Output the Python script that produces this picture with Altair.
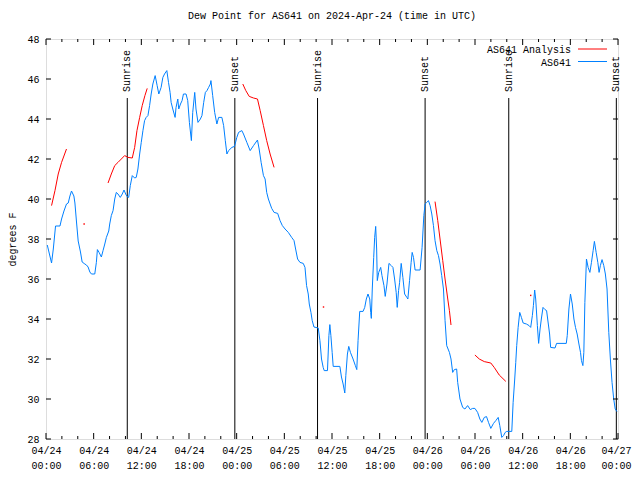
import altair as alt
import pandas as pd

FONT = "Liberation Mono"

# Observations (AS641), hours since 2024-04-24 00:00 UTC, dew point in F
obs_hours = [0.16, 0.70, 0.92, 1.20, 1.76, 1.96, 2.26, 2.58, 2.80, 3.01, 3.21, 3.51, 3.64, 3.84, 4.05,
             4.34, 4.55, 4.89, 5.09, 5.30, 5.52, 5.72, 6.14, 6.34, 6.47, 6.68, 6.97, 7.18, 7.40, 7.60,
             7.90, 8.02, 8.22, 8.44, 8.65, 8.85, 9.06, 9.35, 9.60, 9.82, 10.03, 10.19, 10.41, 10.61,
             10.86, 11.16, 11.36, 11.57, 11.79, 11.99, 12.20, 12.41, 12.61, 12.83, 13.04, 13.24, 13.45,
             13.74, 13.99, 14.20, 14.49, 14.71, 14.92, 15.21, 15.42, 15.62, 15.75, 15.96, 16.25, 16.37,
             16.59, 16.71, 16.93, 17.13, 17.30, 17.63, 17.84, 18.05, 18.30, 18.47, 18.72, 18.88, 19.13,
             19.43, 19.63, 19.85, 20.06, 20.26, 20.47, 20.69, 20.76, 20.98, 21.23, 21.51, 21.73, 22.14,
             22.36, 22.57, 22.77, 22.98, 23.40, 23.73, 24.02, 24.24, 24.65, 24.86, 25.28, 25.70, 26.12,
             26.62, 26.83, 27.08, 27.37, 27.58, 27.78, 27.99, 28.21, 28.41, 28.71, 29.16, 29.46, 29.75,
             30.09, 30.50, 30.92, 31.22, 31.42, 31.67, 31.97, 32.38, 32.60, 32.80, 33.01, 33.14, 33.35,
             33.51, 33.73, 34.27, 34.48, 34.68, 34.89, 35.02, 35.43, 35.61, 35.73, 35.86, 36.02, 36.15,
             36.99, 37.19, 37.40, 37.61, 37.74, 37.94, 38.11, 38.32, 38.65, 38.94, 39.12, 39.28, 39.49,
             39.91, 40.12, 40.32, 40.53, 40.75, 40.87, 40.95, 41.07, 41.25, 41.37, 41.50, 41.62, 41.70,
             41.88, 42.13, 42.29, 42.54, 42.70, 42.92, 43.17, 43.46, 43.67, 43.88, 44.08, 44.21, 44.38,
             44.51, 44.71, 44.92, 45.14, 45.42, 45.55, 45.76, 45.96, 46.09, 46.26, 46.46, 47.09, 47.34,
             47.56, 47.72, 47.93, 48.14, 48.35, 48.56, 48.77, 48.97, 49.19, 49.40, 49.60, 49.81, 50.03,
             50.23, 50.44, 50.78, 50.98, 51.19, 51.40, 51.69, 51.82, 52.11, 52.45, 52.73, 53.07, 53.41,
             53.70, 53.99, 54.33, 54.61, 54.86, 55.17, 55.45, 55.70, 55.99, 56.33, 56.62, 56.92, 57.12,
             57.37, 57.59, 57.80, 58.00, 58.63, 58.80, 59.00, 59.13, 59.25, 59.43, 59.63, 59.84, 60.06,
             60.47, 60.81, 61.01, 61.22, 61.35, 61.51, 61.64, 61.85, 62.01, 62.19, 62.35, 62.56, 62.81,
             63.01, 63.23, 63.39, 63.52, 64.07, 64.27, 65.49, 65.61, 65.82, 66.02, 66.24, 66.45, 66.65,
             66.86, 67.08, 67.28, 67.40, 67.58, 67.70, 67.83, 68.03, 68.24, 68.46, 68.66, 68.87, 69.03,
             69.25, 69.46, 69.62, 69.78, 69.99, 70.21, 70.41, 70.62, 70.84, 71.04, 71.25, 71.46, 71.65,
             71.87]
obs_dewpt = [37.70, 36.80, 37.50, 38.65, 38.65, 39.00, 39.40, 39.75, 39.80, 40.15, 40.40, 40.15, 39.80,
             38.85, 37.90, 37.35, 36.85, 36.75, 36.70, 36.60, 36.35, 36.25, 36.25, 36.83, 37.47, 37.33,
             37.10, 37.42, 37.75, 38.08, 38.40, 38.75, 39.17, 39.42, 40.00, 40.33, 40.25, 40.08, 40.25,
             40.45, 40.25, 40.13, 40.08, 40.67, 41.17, 41.05, 41.08, 41.50, 42.25, 42.83, 43.42, 43.92,
             44.08, 44.17, 44.67, 45.25, 45.75, 46.17, 45.67, 45.25, 45.58, 46.08, 46.25, 46.42, 45.83,
             45.33, 44.83, 44.50, 44.08, 44.58, 45.00, 44.50, 44.75, 44.92, 45.25, 45.25, 44.92, 43.83,
             42.92, 44.33, 45.33, 44.50, 43.83, 44.00, 44.17, 44.83, 45.33, 45.42, 45.58, 45.75, 45.92,
             45.17, 44.33, 43.75, 44.08, 44.08, 43.67, 42.92, 42.25, 42.42, 42.58, 42.63, 43.08, 43.33,
             43.42, 43.25, 42.83, 42.42, 42.67, 42.95, 42.50, 41.83, 41.17, 41.00, 40.33, 40.00, 39.75,
             39.53, 39.33, 39.28, 38.92, 38.67, 38.50, 38.33, 38.08, 37.92, 37.50, 37.00, 36.83, 36.78,
             36.58, 35.67, 35.25, 34.75, 34.33, 33.92, 33.60, 33.55, 32.92, 32.00, 31.58, 31.42, 31.42,
             33.17, 33.72, 33.17, 32.33, 31.63, 31.63, 31.10, 30.75, 30.30, 31.17, 32.25, 32.63, 32.33,
             32.00, 31.67, 31.47, 32.92, 34.38, 34.38, 34.58, 35.00, 35.25, 35.00, 34.33, 34.03, 35.50,
             37.08, 38.08, 38.63, 37.50, 35.92, 36.33, 36.58, 36.17, 35.67, 35.13, 35.75, 36.78, 36.67,
             36.58, 36.00, 35.33, 34.58, 35.42, 35.83, 36.78, 36.08, 35.25, 35.08, 35.00, 35.92, 36.83,
             37.33, 37.08, 36.45, 36.45, 37.58, 39.17, 39.75, 39.83, 39.92, 39.67, 39.25, 38.67, 37.92,
             37.42, 37.17, 36.75, 36.17, 35.50, 33.92, 32.67, 32.33, 32.00, 31.33, 31.47, 31.50, 30.83,
             30.00, 29.58, 29.50, 29.67, 29.47, 29.53, 29.53, 29.33, 29.00, 28.83, 29.08, 29.12, 28.83,
             28.53, 28.78, 28.92, 29.08, 28.67, 28.08, 28.17, 28.33, 28.38, 28.38, 29.83, 31.00, 31.83,
             32.67, 33.58, 34.33, 34.08, 33.80, 33.75, 33.67, 33.58, 34.17, 34.67, 35.45, 35.00, 33.67,
             32.78, 33.50, 34.00, 34.58, 34.47, 34.42, 33.75, 33.25, 32.58, 32.55, 32.78, 32.78, 33.17,
             34.50, 35.25, 34.75, 34.00, 33.58, 33.25, 32.75, 32.33, 31.92, 31.67, 32.33, 34.83, 37.00,
             36.58, 36.33, 36.83, 37.42, 37.88, 37.33, 36.83, 36.33, 36.67, 36.97, 36.67, 36.25, 35.50,
             33.33, 32.00, 30.83, 30.00, 29.50, 29.37]

# Analysis (AS641 Analysis), drawn as separate segments
ana_hours = [0.70, 1.13, 1.54, 1.96, 2.58,
             7.81, 8.22, 8.65, 9.06, 9.48, 9.90, 10.32, 10.86, 11.16, 11.45, 11.79, 12.11, 12.45, 12.74,
             24.77, 25.15, 25.58, 26.12, 26.62, 26.96, 27.37, 27.78, 28.21, 28.71,
             48.97, 49.31, 49.60, 49.94, 50.23, 50.57, 50.78, 50.98,
             53.99, 54.54, 55.17, 55.99, 56.42, 57.05, 57.88]
ana_dewpt = [39.67, 40.42, 41.25, 41.83, 42.50,
             40.80, 41.25, 41.67, 41.83, 42.00, 42.17, 42.08, 42.05, 42.58, 43.42, 44.08, 44.67, 45.17, 45.53,
             45.75, 45.42, 45.13, 45.05, 45.00, 44.42, 43.67, 42.92, 42.25, 41.58,
             39.87, 38.92, 38.00, 36.92, 36.00, 35.00, 34.42, 33.70,
             32.20, 32.00, 31.87, 31.80, 31.58, 31.20, 30.88]
ana_segment = [1] * 5 + [2] * 14 + [3] * 10 + [4] * 8 + [5] * 7

# Isolated analysis values
dot_hours = [4.80, 34.93, 61.01]
dot_dewpt = [38.75, 34.60, 35.18]

# Sunrise / sunset times
sun_hours = [10.23, 23.77, 34.18, 47.72, 58.25, 71.79]
sun_labels = ["Sunrise", "Sunset", "Sunrise", "Sunset", "Sunrise", "Sunset"]

x_tick_hours = list(range(0, 73, 2))
x_label_hours = list(range(0, 73, 6))
y_ticks = list(range(28, 49, 2))

W, H = 572, 400
RED = "#ff0000"
BLUE = "#0080ff"

obs = pd.DataFrame({"t": obs_hours, "v": obs_dewpt})
ana = pd.DataFrame({"t": ana_hours, "v": ana_dewpt, "seg": ana_segment})
dots = pd.DataFrame({"t": dot_hours, "v": dot_dewpt})
sun = pd.DataFrame({"t": sun_hours, "label": sun_labels})
xt = pd.DataFrame({"t": x_tick_hours, "major": [h % 6 == 0 for h in x_tick_hours]})
yt = pd.DataFrame({"v": y_ticks})

xscale = alt.Scale(domain=[0, 72], nice=False, zero=False)
yscale = alt.Scale(domain=[28, 48], nice=False, zero=False)

label_expr = ("['04/' + (24 + floor(datum.value / 24)), "
              "(datum.value % 24 < 10 ? '0' : '') + (datum.value % 24) + ':00']")

xaxis = alt.Axis(values=x_label_hours, labelExpr=label_expr, ticks=False, domain=False, grid=False,
                 labelFont=FONT, labelFontSize=10, labelColor="black", labelPadding=6,
                 labelLineHeight=15, labelFlush=False, labelOverlap=False, labelBound=False, title=None,
                 labelOffset={"condition": {"test": "datum.value >= 72", "value": -2}, "value": 0})
yaxis = alt.Axis(values=y_ticks, ticks=False, domain=False, grid=False, labelFont=FONT,
                 labelFontSize=10, labelColor="black", labelPadding=7, labelFlush=False,
                 labelOverlap=False, labelBound=False, title="degrees F", titleFont=FONT,
                 titleFontSize=10, titleFontWeight="normal", titleColor="black", titlePadding=9)

X = alt.X("t:Q", scale=xscale, axis=xaxis)
Y = alt.Y("v:Q", scale=yscale, axis=yaxis)

obs_line = alt.Chart(obs).mark_line(color=BLUE, strokeWidth=1).encode(x=X, y=Y)

ana_line = alt.Chart(ana).mark_line(color=RED, strokeWidth=1).encode(x=X, y=Y, detail="seg:N")

ana_dots = alt.Chart(dots).mark_square(color=RED, size=2, opacity=1).encode(x=X, y=Y)

sun_rules = alt.Chart(sun).mark_rule(color="black", strokeWidth=1).encode(
    x=X, y=alt.value(59), y2=alt.value(H))

sun_text = alt.Chart(sun).mark_text(angle=270, align="left", baseline="middle", font=FONT,
                                    fontSize=10, color="black").encode(
    x=X, y=alt.value(53), text="label:N")

xmaj = alt.Chart(xt).transform_filter("datum.major")
xmin = alt.Chart(xt).transform_filter("!datum.major")
tick_layers = [
    xmaj.mark_rule(color="black").encode(x=X, y=alt.value(H), y2=alt.value(H - 6)),
    xmin.mark_rule(color="black").encode(x=X, y=alt.value(H), y2=alt.value(H - 3)),
    xmaj.mark_rule(color="black").encode(x=X, y=alt.value(0), y2=alt.value(6)),
    xmin.mark_rule(color="black").encode(x=X, y=alt.value(0), y2=alt.value(3)),
    alt.Chart(yt).mark_rule(color="black").encode(y=Y, x=alt.value(0), x2=alt.value(5)),
    alt.Chart(yt).mark_rule(color="black").encode(y=Y, x=alt.value(W), x2=alt.value(W - 5)),
]

legend_names = ["AS641 Analysis", "AS641"]
legend_colors = [RED, BLUE]
legend_layers = []
for i, (name, col) in enumerate(zip(legend_names, legend_colors)):
    ly = 11 + 12.5 * i
    legend_layers.append(
        alt.Chart(pd.DataFrame({"name": [name]})).mark_text(
            align="right", baseline="middle", font=FONT, fontSize=10, color="black").encode(
            text="name:N", x=alt.value(W - 47), y=alt.value(ly)))
    legend_layers.append(
        alt.Chart(pd.DataFrame({"name": [name]})).mark_rule(color=col, strokeWidth=1).encode(
            x=alt.value(W - 40), x2=alt.value(W - 11), y=alt.value(ly - 1)))

chart = alt.layer(
    sun_rules, sun_text, obs_line, ana_line, ana_dots, *tick_layers, *legend_layers
).properties(
    width=W, height=H,
    title=alt.TitleParams("Dew Point for AS641 on 2024-Apr-24 (time in UTC)", font=FONT, fontSize=10,
                          fontWeight="normal", color="black", anchor="middle", offset=13),
    autosize=alt.AutoSizeParams(type="none"),
    padding={"left": 38, "top": 31, "right": 14, "bottom": 32},
).configure_view(stroke="black", strokeWidth=1).configure(background="white")

chart.save("out.html", embed_options={"renderer": "svg", "actions": False})
